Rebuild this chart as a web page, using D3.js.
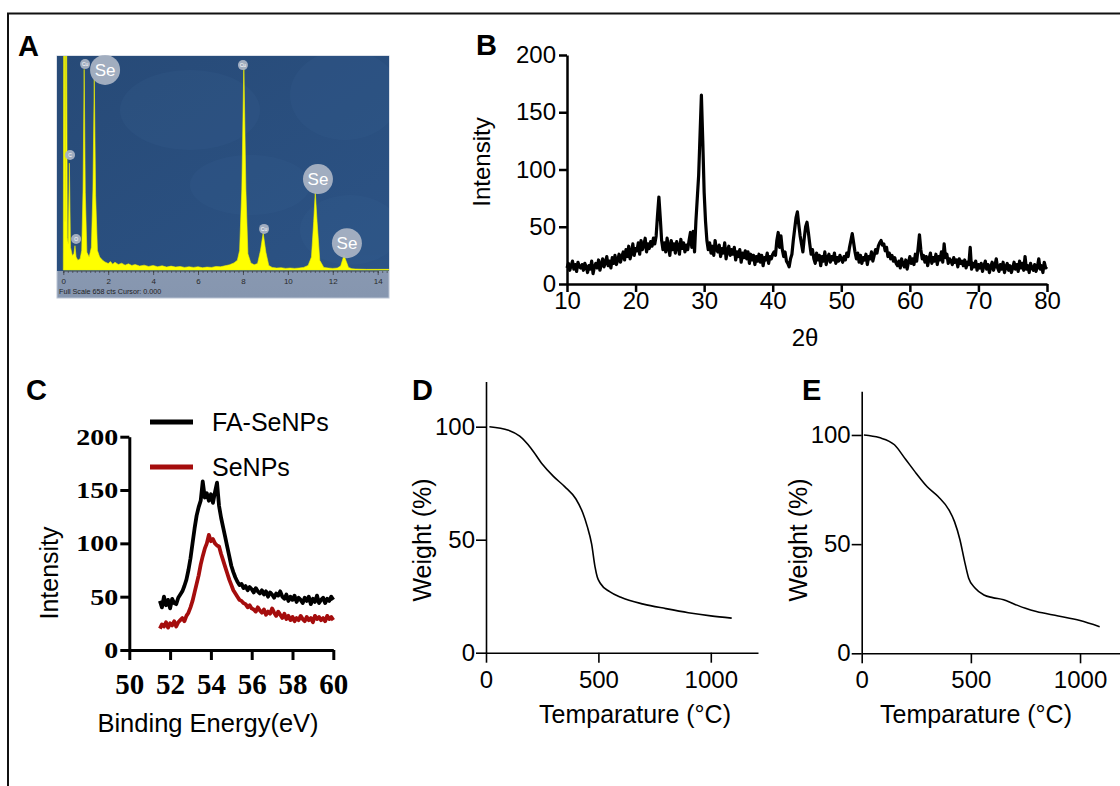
<!DOCTYPE html>
<html>
<head>
<meta charset="utf-8">
<script src="https://cdn.jsdelivr.net/npm/d3@7"></script>
<style>
  body { margin: 0; background: #fff; }
</style>
</head>
<body>
<svg id="fig" width="1120" height="786" font-family="Liberation Sans, Arial, sans-serif"></svg>
<script>
// ---- A: EDS spectrum (keV, counts), full scale 658 cts ----
var edsKeV = [0.00,0.02,0.06,0.08,0.10,0.14,0.18,0.22,0.27,0.32,0.40,0.47,0.52,0.57,0.65,0.75,0.82,0.88,0.93,0.98,
  1.05,1.15,1.25,1.32,1.38,1.44,1.52,1.62,1.75,1.85,2.0,2.1,2.2,2.3,2.45,2.6,2.75,2.9,3.05,3.2,
  3.4,3.6,3.8,4.0,4.2,4.4,4.6,4.8,5.0,5.2,5.4,5.6,5.8,6.0,6.2,6.4,6.6,6.8,7.0,7.2,
  7.4,7.6,7.75,7.85,7.95,8.04,8.13,8.22,8.35,8.5,8.65,8.78,8.9,9.02,9.15,9.3,9.5,9.7,9.9,10.1,
  10.3,10.5,10.7,10.9,11.05,11.15,11.22,11.3,11.42,11.6,11.8,12.0,12.2,12.35,12.45,12.5,12.58,12.7,12.85,13.0,
  13.5,14.0,14.5];
var edsCts = [0,900,900,150,900,900,100,80,330,70,45,50,75,40,30,35,60,250,620,240,
  55,40,70,250,590,230,60,40,30,25,20,26,18,24,17,21,15,19,14,17,
  12,15,11,14,10,13,9,12,9,11,8,10,8,10,7,9,8,11,10,13,
  16,22,30,60,250,640,250,50,22,16,20,60,114,55,14,8,6,7,5,6,
  5,6,8,14,40,150,241,150,30,8,6,5,6,12,35,46,30,8,4,3,
  2,2,2];
var edsTicks = [0,2,4,6,8,10,12,14];
var edsLabelText = ["C","O","Cu","Se","Cu","Cu","Se","Se"];
var edsLabelKeV  = [0.30,0.57,0.97,1.86,8.00,8.94,11.34,12.63];
var edsLabelCts  = [355,96,636,618,633,127,281,83];
var edsLabelBig  = [false,false,false,true,false,false,true,true];

// ---- B: XRD, 2θ from 10 to 80 in 0.2 steps ----
var xrdStart = 10, xrdStep = 0.2;
var xrdIntensity = [
  14,18,12,16,20,13,17,11,19,15,14,
  17,12,18,15,10,16,13,20,9,15,
  18,14,21,12,17,22,15,19,24,16,
  20,14,23,18,25,17,21,26,19,24,
  28,21,30,24,33,22,27,35,25,31,
  29,36,26,38,30,34,40,28,35,31,
  37,33,40,35,42, 60,76,58,38,30,
  36,28,40,32,25,38,30,35,27,37,
  33,26,39,31,36,28,34,30,38,45,
  32,46,28,55,75, 95,130,165,125,80,
  55,38,30,36,27,33,25,38,30,28,
  34,24,31,27,36,22,29,33,25,30,
  26,32,21,28,24,30,19,27,23,29,
  22,28,18,26,21,25,17,24,20,26,
  19,25,16,23,21,27,18,24,22,26,
  28,25,38,45,32,42,30,24,28,20,
  18,15,22,26,38,48,58,63,52,42,
  35,28,40,50,54,45,35,26,30,22,
  18,27,21,25,16,24,20,28,17,23,
  26,19,24,21,27,18,23,20,25,22,
  19,24,21,27,24,32,38,44,36,28,
  22,27,19,25,18,23,21,26,17,24,
  22,28,20,25,30,27,33,36,38,34,
  35,29,32,24,27,22,25,20,23,18,
  16,20,14,22,17,15,21,13,19,24,
  18,22,17,26,20,31,43,30,22,25,
  19,24,16,22,27,18,23,20,26,17,
  24,21,28,19,35,23,26,18,22,20,
  17,23,19,21,15,22,18,20,16,21,
  14,19,17,32,13,18,15,20,12,17,
  14,18,11,16,20,13,17,10,15,19,
  12,16,22,14,11,17,13,19,10,15,
  18,12,16,10,14,19,13,17,11,20,
  14,18,12,24,13,16,10,18,14,12,
  17,11,15,22,13,16,10,19,14,15];
var xrdXTicks = [10,20,30,40,50,60,70,80];
var xrdYTicks = [0,50,100,150,200];

// ---- C: XPS Se 3d, 51.5 to 60 eV in 0.1 steps ----
var xpsStart = 51.5, xpsStep = 0.1;
var xpsFA = [
  46,40,50,42,47,39,48,44,43,49,
  52,55,60,66,75,86,100,114,126,134,
  140,158,143,147,140,146,138,148,157,135,
  124,115,106,97,88,79,73,68,64,61,
  62,58,60,56,59,57,54,58,55,53,
  56,52,55,50,54,52,49,53,51,55,
  50,48,52,46,50,47,51,45,49,47,
  44,49,46,50,43,48,45,51,44,47,
  49,44,48,46,50,47];
var xpsSe = [
  20,24,22,26,21,25,23,27,22,26,
  28,30,27,32,35,40,46,54,62,70,
  80,88,95,100,108,102,104,100,98,97,
  90,84,78,72,66,61,56,53,50,47,
  46,44,43,40,42,39,38,36,40,37,
  35,38,33,36,34,39,35,32,36,33,
  30,34,29,32,28,31,27,30,28,32,
  29,27,31,28,30,26,32,29,31,28,
  30,27,32,29,31,28];
var xpsSeries = ["FA-SeNPs","SeNPs"];
var xpsXTicks = [50,52,54,56,58,60];
var xpsYTicks = [0,50,100,150,200];

// ---- D / E: TGA ----
var tgaDTemp   = [15,100,150,200,250,300,350,400,430,450,470,485,495,510,550,600,700,800,900,1000,1093];
var tgaDWeight = [100,98.4,95.8,90.5,83.5,78,73.5,68,62,56,48,38,33.5,30.5,27,24.5,21.5,19.5,17.7,16.3,15.3];
var tgaETemp   = [10,80,150,200,250,300,350,400,425,450,470,490,520,560,600,650,700,750,800,900,1000,1090];
var tgaEWeight = [100,98.8,95.5,89,82.4,76.3,71.8,65.6,60.3,52,42.7,34.4,29.8,26.7,25.5,24.5,22.5,20.6,19.1,17.1,15,12.2];
var tgaXTicks = [0,500,1000];
var tgaYTicks = [0,50,100];

var svg = d3.select("#fig");
var defs = svg.append("defs");

// outer frame (top and left edges)
svg.append("path").attr("d", "M8,786V13.5H1120")
  .attr("fill", "none").attr("stroke", "#111").attr("stroke-width", 2);

function letter(t, x, y) {
  svg.append("text").attr("x", x).attr("y", y).text(t)
    .attr("font-size", 29).attr("font-weight", "bold").attr("fill", "#000");
}
letter("A", 18, 56);
letter("B", 476, 55);
letter("C", 26, 400);
letter("D", 412, 400);
letter("E", 802, 400);

function styleAxis(g, width, size, family, weight) {
  g.attr("font-size", size).attr("font-family", family || "Liberation Sans, Arial, sans-serif")
    .attr("font-weight", weight || "normal");
  g.select(".domain").attr("stroke", "#000").attr("stroke-width", width);
  g.selectAll(".tick line").attr("stroke", "#000").attr("stroke-width", width);
  g.selectAll(".tick text").attr("fill", "#000");
}

// ================= A =================
(function () {
  var x = d3.scaleLinear().domain([0, 14]).range([63.3, 377.7]);
  var y = d3.scaleLinear().domain([0, 658]).range([270, 57]);

  var bg = defs.append("linearGradient").attr("id", "edsBg").attr("x1", 0).attr("y1", 0).attr("x2", 1).attr("y2", 1);
  bg.append("stop").attr("offset", "0%").attr("stop-color", "#274a77");
  bg.append("stop").attr("offset", "100%").attr("stop-color", "#2c5385");
  var st = defs.append("linearGradient").attr("id", "edsStrip").attr("x1", 0).attr("y1", 0).attr("x2", 0).attr("y2", 1);
  st.append("stop").attr("offset", "0%").attr("stop-color", "#97a6bd");
  st.append("stop").attr("offset", "100%").attr("stop-color", "#8696af");
  defs.append("clipPath").attr("id", "edsClip").append("rect")
    .attr("x", 57).attr("y", 56).attr("width", 332).attr("height", 215);

  var g = svg.append("g");
  g.append("rect").attr("x", 57).attr("y", 56).attr("width", 332).attr("height", 242)
    .attr("fill", "url(#edsStrip)").attr("stroke", "#b9c3d3").attr("stroke-width", 1);
  g.append("rect").attr("x", 57).attr("y", 56).attr("width", 332).attr("height", 215).attr("fill", "url(#edsBg)");
  // faint texture
  var tex = g.append("g").attr("clip-path", "url(#edsClip)").attr("fill", "#3a6394").attr("opacity", 0.18);
  tex.append("ellipse").attr("cx", 190).attr("cy", 110).attr("rx", 70).attr("ry", 40);
  tex.append("ellipse").attr("cx", 345).attr("cy", 95).attr("rx", 55).attr("ry", 45);
  tex.append("ellipse").attr("cx", 250).attr("cy", 185).attr("rx", 60).attr("ry", 30);
  tex.append("ellipse").attr("cx", 350).attr("cy", 230).attr("rx", 50).attr("ry", 35);

  var pts = edsKeV.map(function (k, i) { return [k, edsCts[i]]; });
  var area = d3.area().x(function (d) { return x(d[0]); })
    .y0(y(0)).y1(function (d) { return y(d[1]); });
  g.append("path").attr("d", area(pts)).attr("clip-path", "url(#edsClip)")
    .attr("fill", "#ffff00").attr("stroke", "#f2f200").attr("stroke-width", 0.6);

  // axis: minor and major ticks
  var minor = g.append("g").attr("transform", "translate(0," + (y(0) + 1) + ")")
    .call(d3.axisBottom(x).tickValues(d3.range(0, 14.51, 0.2)).tickSize(2).tickFormat(""));
  minor.select(".domain").attr("stroke", "#55627a").attr("stroke-width", 0.8);
  minor.selectAll(".tick line").attr("stroke", "#333").attr("stroke-width", 0.6);
  var major = g.append("g").attr("transform", "translate(0," + (y(0) + 1) + ")")
    .call(d3.axisBottom(x).tickValues(edsTicks).tickSize(4).tickPadding(3).tickFormat(d3.format("d")));
  major.select(".domain").remove();
  major.attr("font-size", 8).attr("font-family", "Liberation Sans, Arial, sans-serif");
  major.selectAll(".tick line").attr("stroke", "#333").attr("stroke-width", 0.7);
  major.selectAll(".tick text").attr("fill", "#2a2a2a");

  g.append("text").attr("x", 59).attr("y", 294).attr("font-size", 7.2).attr("fill", "#1f1f1f")
    .text("Full Scale 658 cts Cursor: 0.000");

  // element labels
  var lab = g.selectAll("g.lab").data(edsLabelText).enter().append("g")
    .attr("transform", function (d, i) { return "translate(" + x(edsLabelKeV[i]) + "," + y(edsLabelCts[i]) + ")"; });
  lab.append("circle").attr("r", function (d, i) { return edsLabelBig[i] ? 15 : 5; })
    .attr("fill", "#a8b2c3").attr("opacity", 0.95);
  lab.append("text").text(function (d) { return d; })
    .attr("text-anchor", "middle").attr("dy", "0.36em")
    .attr("font-size", function (d, i) { return edsLabelBig[i] ? 17 : 5; })
    .attr("fill", "#fff");
})();

// ================= B =================
(function () {
  var x = d3.scaleLinear().domain([10, 80]).range([567, 1047]);
  var y = d3.scaleLinear().domain([0, 200]).range([284, 55]);
  var g = svg.append("g");

  var pts = xrdIntensity.map(function (v, i) { return [xrdStart + i * xrdStep, v]; });
  g.append("path").attr("d", d3.line().x(function (d) { return x(d[0]); }).y(function (d) { return y(d[1]); })(pts))
    .attr("fill", "none").attr("stroke", "#000").attr("stroke-width", 3.2).attr("stroke-linejoin", "round");

  var ya = g.append("g").attr("transform", "translate(567,0)")
    .call(d3.axisLeft(y).tickValues(xrdYTicks).tickSize(8).tickSizeOuter(0).tickPadding(3));
  styleAxis(ya, 2.5, 24);
  var xa = g.append("g").attr("transform", "translate(0,284)")
    .call(d3.axisBottom(x).tickValues(xrdXTicks).tickSize(8).tickSizeOuter(0).tickPadding(0));
  styleAxis(xa, 2.5, 24);

  g.append("text").attr("transform", "translate(490,162) rotate(-90)").attr("text-anchor", "middle")
    .attr("font-size", 24).text("Intensity");
  g.append("text").attr("x", 805).attr("y", 346).attr("text-anchor", "middle")
    .attr("font-size", 24).text("2θ");
})();

// ================= C =================
(function () {
  var x = d3.scaleLinear().domain([50, 60]).range([129.3, 333.3]);
  var y = d3.scaleLinear().domain([0, 200]).range([650, 436.7]);
  var g = svg.append("g");
  var colors = ["#000", "#a50d0d"];
  var line = d3.line().x(function (d) { return x(d[0]); }).y(function (d) { return y(d[1]); });

  [xpsFA, xpsSe].forEach(function (arr, k) {
    var pts = arr.map(function (v, i) { return [xpsStart + i * xpsStep, v]; });
    g.append("path").attr("d", line(pts)).attr("fill", "none")
      .attr("stroke", colors[k]).attr("stroke-width", 3.8).attr("stroke-linejoin", "round");
  });

  var ya = g.append("g").attr("transform", "translate(129.3,0)")
    .call(d3.axisLeft(y).tickValues(xpsYTicks).tickSize(9).tickSizeOuter(0).tickPadding(2));
  styleAxis(ya, 3, 28, "Liberation Serif, Times New Roman, serif", "bold");
  ya.selectAll(".tick text").attr("transform", "scale(1,0.84)");
  var xa = g.append("g").attr("transform", "translate(0,650)")
    .call(d3.axisBottom(x).tickValues(xpsXTicks).tickSize(10).tickSizeOuter(0).tickPadding(13));
  styleAxis(xa, 3, 29, "Liberation Serif, Times New Roman, serif", "bold");

  g.append("text").attr("transform", "translate(58,573) rotate(-90)").attr("text-anchor", "middle")
    .attr("font-size", 25).text("Intensity");
  g.append("text").attr("x", 208).attr("y", 732).attr("text-anchor", "middle")
    .attr("font-size", 25.5).text("Binding Energy(eV)");

  var leg = g.selectAll("g.leg").data(xpsSeries).enter().append("g")
    .attr("transform", function (d, i) { return "translate(150," + (422 + i * 45) + ")"; });
  leg.append("line").attr("x1", 0).attr("x2", 43).attr("stroke", function (d, i) { return colors[i]; })
    .attr("stroke-width", 5);
  leg.append("text").attr("x", 62).attr("dy", "0.36em").attr("font-size", 25).text(function (d) { return d; });
})();

// ================= D / E =================
function tgaPanel(temps, weights, xr, yr, labelX) {
  var x = d3.scaleLinear().domain([0, xr[2]]).range([xr[0], xr[1]]);
  var y = d3.scaleLinear().domain([0, 120]).range([yr[0], yr[1]]);
  var g = svg.append("g");
  var pts = temps.map(function (t, i) { return [t, weights[i]]; });
  g.append("path")
    .attr("d", d3.line().curve(d3.curveMonotoneX).x(function (d) { return x(d[0]); }).y(function (d) { return y(d[1]); })(pts))
    .attr("fill", "none").attr("stroke", "#000").attr("stroke-width", 1.6);

  var ya = g.append("g").attr("transform", "translate(" + xr[0] + ",0)")
    .call(d3.axisLeft(y).tickValues(tgaYTicks).tickSize(10).tickSizeOuter(0).tickPadding(1).tickFormat(d3.format("d")));
  styleAxis(ya, 1.6, 24);
  var xa = g.append("g").attr("transform", "translate(0," + yr[0] + ")")
    .call(d3.axisBottom(x).tickValues(tgaXTicks).tickSize(10).tickSizeOuter(0).tickPadding(8).tickFormat(d3.format("d")));
  styleAxis(xa, 1.6, 24);

  g.append("text").attr("transform", "translate(" + (xr[0] - 55) + ",540) rotate(-90)")
    .attr("text-anchor", "middle").attr("font-size", 25).text("Weight (%)");
  g.append("text").attr("x", labelX).attr("y", 723).attr("text-anchor", "middle")
    .attr("font-size", 25).text("Temparature (°C)");
}
tgaPanel(tgaDTemp, tgaDWeight, [486, 758, 1210], [652.7, 381.5], 635);
tgaPanel(tgaETemp, tgaEWeight, [861.7, 1123.7, 1200], [653.3, 391.3], 976);
</script>
</body>
</html>
